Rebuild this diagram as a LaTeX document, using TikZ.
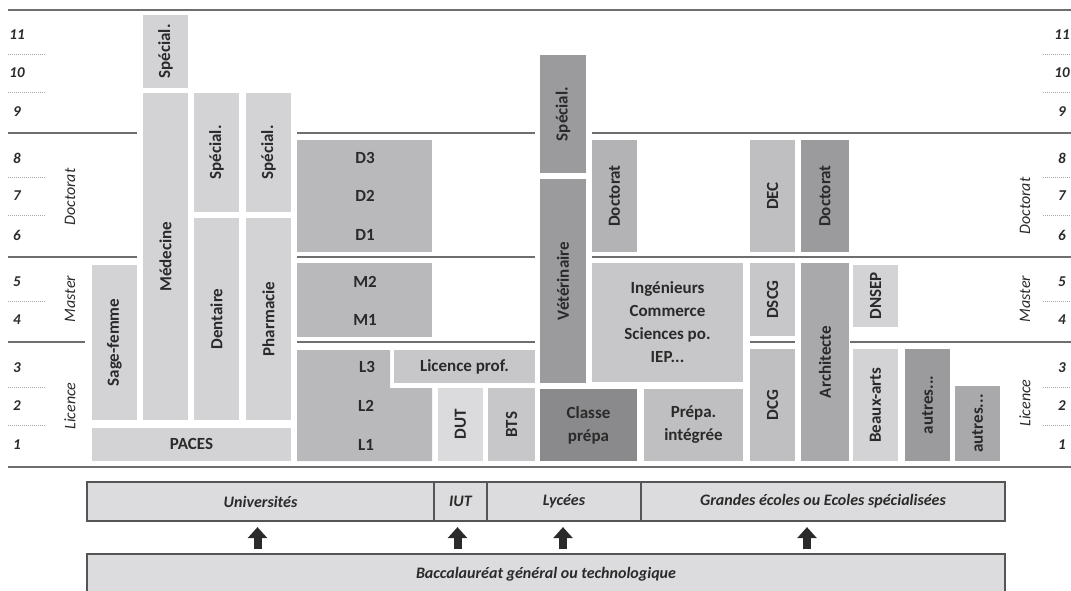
\documentclass[tikz,border=0pt]{standalone}
\usepackage{fontspec}
\setmainfont{Carlito}
\usetikzlibrary{arrows.meta,calc}

\definecolor{ink}{HTML}{2A2A2A}
\definecolor{rulegray}{HTML}{6E6E6E}
\definecolor{tickgray}{HTML}{A8A8A8}
\definecolor{cLight}{HTML}{D3D3D5}
\definecolor{cPale}{HTML}{DBDBDD}
\definecolor{cUniv}{HTML}{B9B9BB}
\definecolor{cMid}{HTML}{C7C7C9}
\definecolor{cSoft}{HTML}{BFBFC1}
\definecolor{cDoc}{HTML}{B3B3B5}
\definecolor{cDark}{HTML}{9B9B9D}
\definecolor{cDarker}{HTML}{8A8A8C}
\definecolor{cArch}{HTML}{A9A9AB}
\definecolor{barfill}{HTML}{DCDCDE}
\definecolor{barline}{HTML}{555555}

\begin{document}
\begin{tikzpicture}[x=1pt,y=-1pt,text=ink,font=\fontsize{17}{23}\selectfont\bfseries]
    \tikzstyle{vcell}=[rotate=90,inner sep=0pt,minimum height=45pt]
    \tikzstyle{hcell}=[inner sep=0pt,align=center]
    \tikzstyle{rule}=[line width=1.6pt,draw=rulegray]
    \tikzstyle{tick}=[line width=0.8pt,draw=tickgray,dash pattern=on 1.2pt off 0.8pt]
    \tikzstyle{year}=[font=\fontsize{15}{17}\selectfont\bfseries\itshape]
    \tikzstyle{group}=[rotate=90,font=\fontsize{16}{18}\selectfont\mdseries\itshape]
    \tikzstyle{bar}=[draw=barline,line width=1.2pt,fill=barfill,inner sep=0pt,minimum height=39pt,font=\fontsize{16}{18}\selectfont\bfseries\itshape]
    \tikzstyle{uparrow}=[line width=8pt,draw=ink,-{Triangle[width=19pt,length=11pt]},shorten <=4pt,shorten >=5.5pt]
    \useasboundingbox (0,0) rectangle (1071,590);
    % horizontal rules between the cycles
    \draw[rule] (8,10) -- (1071,10);
    \draw[rule] (8,467) -- (1071,467);
    \draw[rule] (8,133) -- (137,133) (297,133) -- (535,133) (592,133) -- (1071,133);
    \draw[rule] (8,257) -- (137,257) (297,257) -- (535,257) (592,257) -- (1071,257);
    \draw[rule] (8,342) -- (85,342) (297,342) -- (535,342) (750,342) -- (795,342) (850,342) -- (1071,342);
    % years, both sides
    \foreach \yr/\yy in {11/35,10/73,9/112,8/158,7/196,6/235,5/282,4/320,3/368,2/406,1/445} {
      \node[year] (yl\yr) at (17,\yy) {\yr};
      \node[year] (yr\yr) at (1062,\yy) {\yr};
    }
    \foreach \yy in {54,92,177,215,301,387,425} {
      \draw[tick] (8,\yy) -- (45,\yy);
      \draw[tick] (1043,\yy) -- (1071,\yy);
    }
    \node[group] (ldoc) at (70,197) {Doctorat};
    \node[group] (lmas) at (70,299) {Master};
    \node[group] (llic) at (70,406) {Licence};
    \node[group] (rdoc) at (1025,206) {Doctorat};
    \node[group] (rmas) at (1025,299) {Master};
    \node[group] (rlic) at (1025,403) {Licence};
    % health studies
    \node[vcell,fill=cLight,minimum width=73pt] (spmed) at (165.5,51.5) {Spécial.};
    \node[vcell,fill=cLight,minimum width=327pt] (med) at (165.5,256.5) {Médecine};
    \node[vcell,fill=cLight,minimum width=119pt] (spdent) at (216.5,152.5) {Spécial.};
    \node[vcell,fill=cLight,minimum width=202pt] (dent) at (216.5,319) {Dentaire};
    \node[vcell,fill=cLight,minimum width=119pt] (spphar) at (268.5,152.5) {Spécial.};
    \node[vcell,fill=cLight,minimum width=202pt] (phar) at (268.5,319) {Pharmacie};
    \node[vcell,fill=cLight,minimum width=155pt] (sage) at (114.5,342.5) {Sage-femme};
    \node[hcell,fill=cLight,minimum width=199pt,minimum height=33pt] (paces) at (191.5,444) {PACES};
    % university LMD
    \node[hcell,fill=cUniv,minimum width=135pt,minimum height=112pt] (dbox) at (364.5,196) {};
    \node (d3) at (365,158) {D3};
    \node (d2) at (365,196) {D2};
    \node (d1) at (365,235) {D1};
    \node[hcell,fill=cUniv,minimum width=135pt,minimum height=74pt] (mbox) at (364.5,300) {};
    \node (m2) at (365,282) {M2};
    \node (m1) at (365,320) {M1};
    \fill[cUniv] (297,350) -- (390,350) -- (390,388) -- (432,388) -- (432,461) -- (297,461) -- cycle;
    \node (l3) at (367,367) {L3};
    \node (l2) at (366,406) {L2};
    \node (l1) at (366,445) {L1};
    \node[hcell,fill=cMid,minimum width=141pt,minimum height=33pt] (lprof) at (464.5,366.5) {Licence prof.};
    \node[vcell,fill=cPale,minimum width=73pt] (dut) at (460.5,424.5) {DUT};
    \node[vcell,fill=cMid,minimum width=73pt,minimum height=47pt] (bts) at (511.5,424.5) {BTS};
    % veterinary and prepas
    \node[vcell,fill=cDark,minimum width=118pt,minimum height=46pt] (spvet) at (563,114) {Spécial.};
    \node[vcell,fill=cDark,minimum width=204pt,minimum height=46pt] (vet) at (563,281) {Vétérinaire};
    \node[hcell,fill=cDarker,minimum width=97pt,minimum height=72pt] (cprep) at (588.5,425) {Classe\\prépa};
    \node[vcell,fill=cDoc,minimum width=112pt] (doct1) at (614.5,196) {Doctorat};
    \node[hcell,fill=cMid,minimum width=151pt,minimum height=119pt] (inge) at (667.5,322.5) {Ingénieurs\\Commerce\\Sciences po.\\IEP...};
    \node[hcell,fill=cSoft,minimum width=99pt,minimum height=72pt] (pint) at (693.5,425) {Prépa.\\intégrée};
    % accounting, architecture, arts
    \node[vcell,fill=cSoft,minimum width=112pt] (dec) at (772.5,196) {DEC};
    \node[vcell,fill=cDark,minimum width=112pt,minimum height=48pt] (doct2) at (825,196) {Doctorat};
    \node[vcell,fill=cMid,minimum width=73pt] (dscg) at (772.5,299.5) {DSCG};
    \node[vcell,fill=cSoft,minimum width=112pt] (dcg) at (772.5,405) {DCG};
    \node[vcell,fill=cArch,minimum width=198pt,minimum height=48pt] (archi) at (825,362) {Architecte};
    \node[vcell,fill=cLight,minimum width=62pt] (dnsep) at (875.5,296) {DNSEP};
    \node[vcell,fill=cLight,minimum width=112pt] (barts) at (875.5,405) {Beaux-arts};
    \node[vcell,fill=cDark,minimum width=112pt] (autres1) at (927.5,405) {autres...};
    \node[vcell,fill=cArch,minimum width=75pt] (autres2) at (977.5,423.5) {autres...};
    % institutions and the bac
    \node[bar,minimum width=347pt] (univ) at (260.5,501.5) {Universités};
    \node[bar,minimum width=53pt] (iut) at (460.5,501.5) {IUT};
    \node[bar,minimum width=154pt] (lyc) at (564,501.5) {Lycées};
    \node[bar,minimum width=364pt] (gecole) at (823,501.5) {Grandes écoles ou Ecoles spécialisées};
    \node[bar,minimum width=918pt,minimum height=40pt] (bac) at (546,574) {Baccalauréat général ou technologique};
    \draw[uparrow] ($(bac.north -| univ.south)+(-3,0)$) -- ($(univ.south)+(-3,0)$);
    \draw[uparrow] ($(bac.north -| iut.south)+(-3,0)$) -- ($(iut.south)+(-3,0)$);
    \draw[uparrow] ($(bac.north -| lyc.south)+(-1,0)$) -- ($(lyc.south)+(-1,0)$);
    \draw[uparrow] ($(bac.north -| gecole.south)+(-16,0)$) -- ($(gecole.south)+(-16,0)$);
\end{tikzpicture}
\end{document}
